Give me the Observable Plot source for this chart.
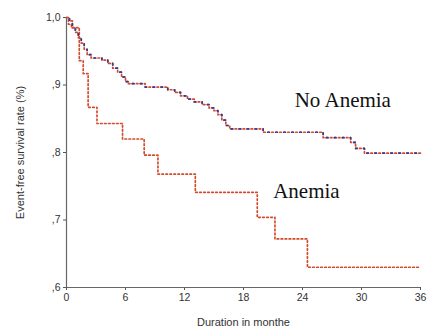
<!DOCTYPE html>
<html>
<head>
<meta charset="utf-8">
<script src="https://cdn.jsdelivr.net/npm/d3@7"></script>
<script src="https://cdn.jsdelivr.net/npm/@observablehq/plot@0.6"></script>
<style>
  body { margin: 0; background: #fff; }
  #chart { width: 427px; height: 330px; }
</style>
</head>
<body>
<div id="chart"></div>
<script>
// No Anemia: step times (months) and survival
const noAnemiaTime = [0, 0.3, 0.6, 0.9, 1.2, 1.5, 1.8, 2.1, 2.5, 3.6, 4.2, 4.7, 5.2, 5.6, 6.0, 6.3, 8.0, 10.3, 11.0, 11.6, 12.3, 13.0, 13.8, 14.5, 15.0, 15.4, 15.8, 16.2, 16.6, 20.0, 26.1, 28.9, 29.4, 30.3, 36];
const noAnemiaSurv = [1.0, 0.995, 0.985, 0.978, 0.970, 0.962, 0.953, 0.945, 0.940, 0.937, 0.932, 0.925, 0.919, 0.912, 0.905, 0.902, 0.897, 0.893, 0.889, 0.884, 0.879, 0.875, 0.871, 0.866, 0.862, 0.856, 0.848, 0.840, 0.835, 0.830, 0.822, 0.815, 0.806, 0.799, 0.799];
// Anemia
const anemiaTime = [0, 0.2, 0.5, 1.3, 1.7, 2.2, 3.1, 5.7, 7.9, 9.3, 13.1, 19.4, 21.2, 24.5, 36];
const anemiaSurv = [1.0, 0.99, 0.985, 0.936, 0.917, 0.867, 0.843, 0.82, 0.796, 0.768, 0.741, 0.704, 0.672, 0.630, 0.630];

const xTicks = [0, 6, 12, 18, 24, 30, 36];
const yTicks = [0.6, 0.7, 0.8, 0.9, 1.0];
const yTickLabels = [",6", ",7", ",8", ",9", "1,0"];
const groupLabels = ["No Anemia", "Anemia"];

const noAnemia = noAnemiaTime.map((t, i) => ({t, s: noAnemiaSurv[i]}));
const anemia = anemiaTime.map((t, i) => ({t, s: anemiaSurv[i]}));

const chart = Plot.plot({
  width: 427,
  height: 330,
  marginLeft: 66,
  marginRight: 7,
  marginTop: 17,
  marginBottom: 43,
  style: {fontFamily: "Liberation Sans, Arial, sans-serif", fontSize: "10px", color: "#333", background: "#fff"},
  x: {domain: [0, 36]},
  y: {domain: [0.6, 1.0]},
  marks: [
    Plot.axisX({ticks: xTicks, tickSize: 3, tickPadding: 3, label: null, fontSize: 10.5, stroke: "#555"}),
    Plot.axisX({ticks: [], label: "Duration in monthe", labelAnchor: "center", labelOffset: 38, labelArrow: "none", fontSize: 11}),
    Plot.axisY({ticks: yTicks, tickSize: 3, tickPadding: 3, tickFormat: d => yTickLabels[yTicks.indexOf(d)], label: null, fontSize: 10.5, stroke: "#555"}),
    Plot.axisY({ticks: [], label: "Event-free survival rate (%)", labelAnchor: "center", labelOffset: 50, labelArrow: "none", fontSize: 11}),
    Plot.ruleX([0], {stroke: "#666", strokeWidth: 1.2}),
    Plot.ruleY([0.6], {stroke: "#666", strokeWidth: 1.2}),
    Plot.line(anemia, {x: "t", y: "s", curve: "step-after", stroke: "#d44a2c", strokeWidth: 1.7, strokeDasharray: "1.6,2.4"}),
    Plot.line(noAnemia, {x: "t", y: "s", curve: "step-after", stroke: "#d44a2c", strokeWidth: 1.7, strokeDasharray: "1.6,2.4"}),
    Plot.line(noAnemia, {x: "t", y: "s", curve: "step-after", stroke: "#3b3b8f", strokeWidth: 1.7, strokeDasharray: "1.6,6.4", strokeDashoffset: 4}),
    Plot.text([groupLabels[0]], {x: 28.1, y: 0.877, text: d => d, fontFamily: "Liberation Serif, Times New Roman, serif", fontSize: 21, fill: "#111"}),
    Plot.text([groupLabels[1]], {x: 24.4, y: 0.742, text: d => d, fontFamily: "Liberation Serif, Times New Roman, serif", fontSize: 21, fill: "#111"})
  ]
});
document.getElementById("chart").appendChild(chart);
</script>
</body>
</html>
